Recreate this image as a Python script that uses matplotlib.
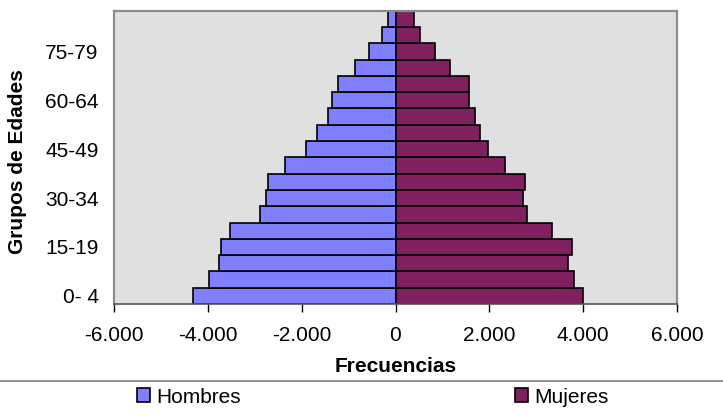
import matplotlib
matplotlib.use("Agg")
import matplotlib.pyplot as plt
from matplotlib.lines import Line2D
from matplotlib.patches import Patch

plt.rcParams['font.family'] = ['Liberation Sans', 'DejaVu Sans']

age_groups = ["0- 4", "5- 9", "10-14", "15-19", "20-24", "25-29", "30-34", "35-39",
              "40-44", "45-49", "50-54", "55-59", "60-64", "65-69", "70-74", "75-79",
              "80-84", "85+"]
hombres = [4320, 3965, 3760, 3725, 3525, 2880, 2760, 2715, 2360, 1915, 1680, 1430,
           1355, 1235, 870, 555, 280, 160]
mujeres = [4000, 3800, 3680, 3765, 3335, 2800, 2720, 2765, 2330, 1965, 1800, 1690,
           1560, 1570, 1165, 845, 525, 400]
x_ticks = [-6000, -4000, -2000, 0, 2000, 4000, 6000]
x_tick_labels = ["-6.000", "-4.000", "-2.000", "0", "2.000", "4.000", "6.000"]
y_label_every = 3

male_color = "#8080FF"
female_color = "#802060"
FS = 15

W, H = 723, 415
fig = plt.figure(figsize=(W / 100, H / 100), dpi=100)
ax = fig.add_axes([114 / W, 1 - 304 / H, (677 - 114) / W, (304 - 10.7) / H])
ax.set_facecolor("#E0E0E0")

pos = list(range(len(age_groups)))
ax.barh(pos, [-v for v in hombres], height=1.0, color=male_color,
        edgecolor="black", linewidth=1.2, label="Hombres")
ax.barh(pos, mujeres, height=1.0, color=female_color,
        edgecolor="black", linewidth=1.2, label="Mujeres")

ax.set_xlim(-6000, 6000)
ax.set_ylim(-0.5, len(age_groups) - 0.5)
ax.set_xticks(x_ticks)
ax.set_xticklabels(x_tick_labels, fontsize=FS)
ax.set_yticks(pos[::y_label_every])
ax.set_yticklabels(age_groups[::y_label_every], fontsize=FS)
ax.tick_params(axis='y', length=0, pad=11)
ax.tick_params(axis='x', length=6, width=1, color="black", direction="out", pad=10)

for s in ["top", "right", "left"]:
    ax.spines[s].set_color("#8C8C8C")
    ax.spines[s].set_linewidth(1.6)
ax.spines["bottom"].set_color("#555555")
ax.spines["bottom"].set_linewidth(1.2)

fig.text(395.5 / W, 1 - 366 / H, "Frecuencias", ha="center", va="center",
         fontsize=FS, fontweight="bold")
fig.text(17.5 / W, 1 - 162 / H, "Grupos de Edades", ha="center", va="center",
         rotation=90, fontsize=FS, fontweight="bold")

fig.add_artist(Line2D([0, 1], [1 - 380.5 / H, 1 - 380.5 / H], color="#808080",
                      linewidth=1.2, transform=fig.transFigure))

for lab, col, xl in [("Hombres", male_color, 137), ("Mujeres", female_color, 515)]:
    h = Patch(facecolor=col, edgecolor="black", linewidth=1.2)
    fig.legend([h], [lab], loc="center left", bbox_to_anchor=(xl / W, 1 - 397 / H),
               frameon=False, fontsize=FS, handlelength=0.62, handleheight=0.62,
               handletextpad=0.3, borderpad=0, borderaxespad=0)

fig.savefig("out.png", dpi=100)
